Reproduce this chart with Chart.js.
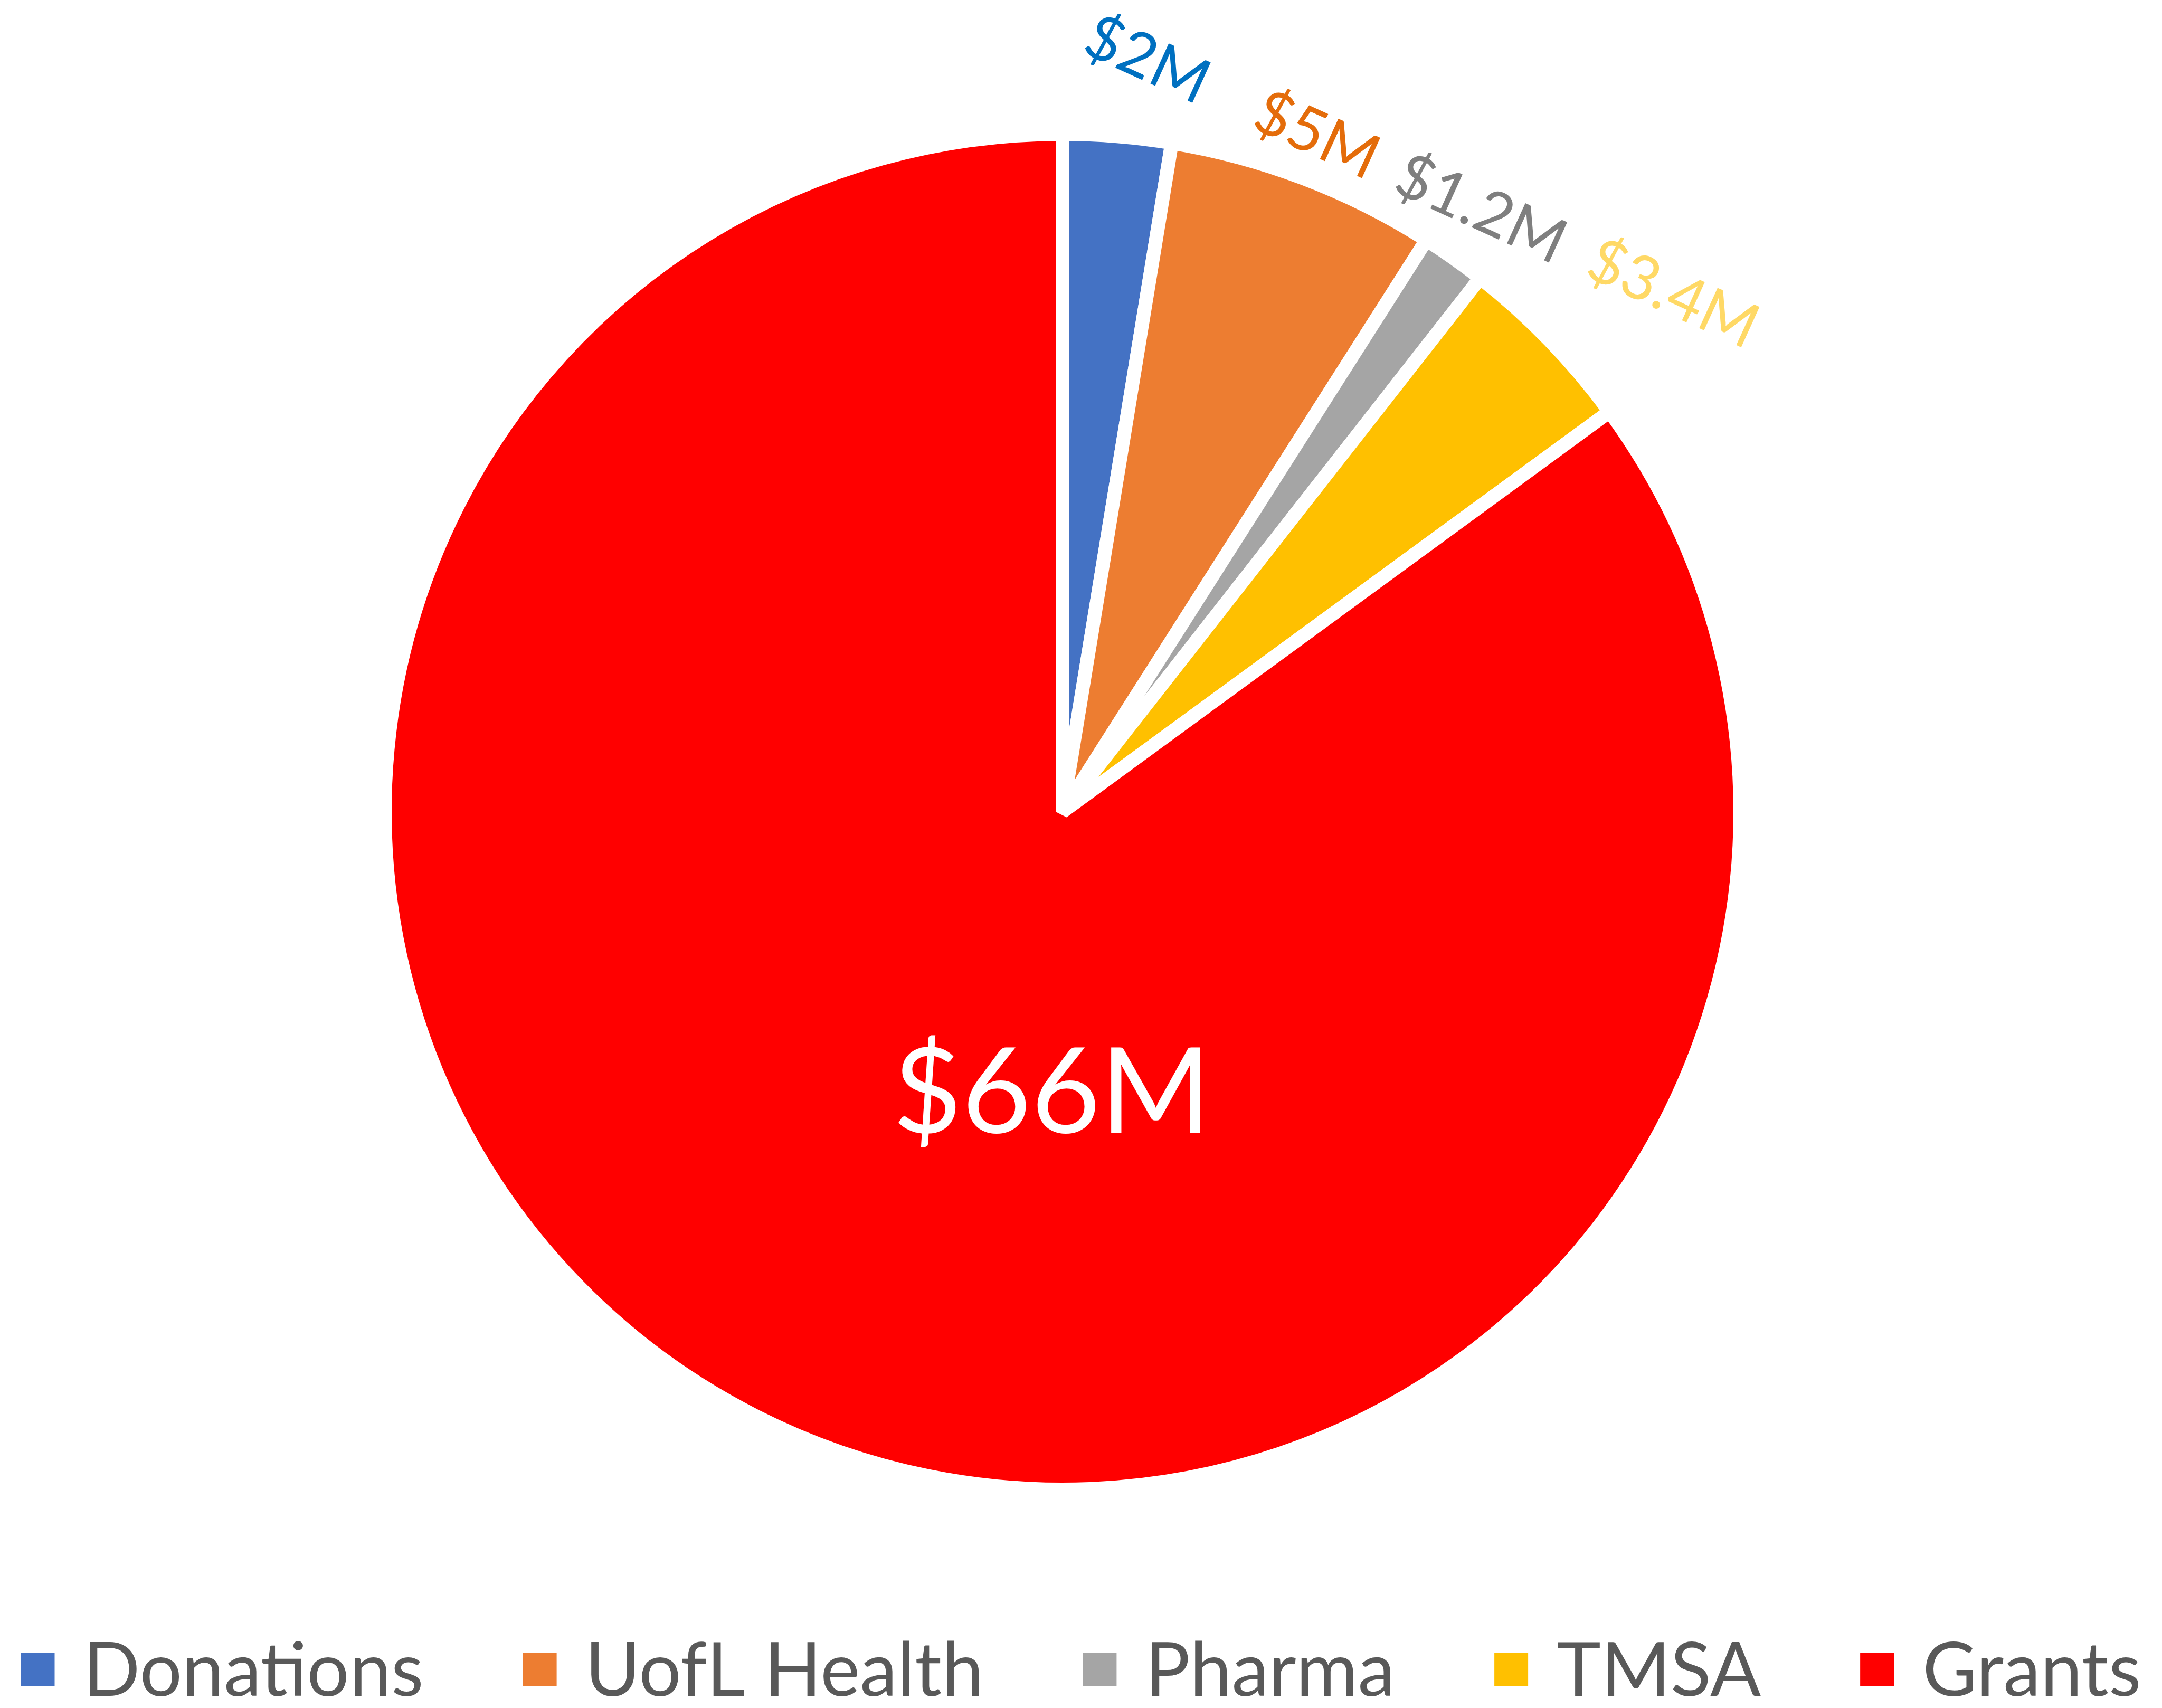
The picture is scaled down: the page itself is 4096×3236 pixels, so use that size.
<!DOCTYPE html>
<html lang="en">
<head>
    <meta charset="UTF-8">
    <title>Funding Sources</title>
    <script src="https://cdn.jsdelivr.net/npm/chart.js"></script>
    <style>
        html, body { margin: 0; padding: 0; background: #fff; }
        #wrap { width: 4096px; height: 3236px; position: relative; }
    </style>
</head>
<body>
    <div id="wrap"><canvas id="fundingPie"></canvas></div>

    <script>
    // Funding sources, in millions of dollars
    const sources = ['Donations', 'UofL Health', 'Pharma', 'TMSA', 'Grants'];
    const amounts = [2, 5, 1.2, 3.4, 66];

    const sliceColors = ['#4472C4', '#ED7D31', '#A5A5A5', '#FFC000', '#FF0000'];
    const labelColors = ['#0070C0', '#E46C0A', '#7F7F7F', '#FFD966', '#FFFFFF'];

    // Where each value label sits: angle nudge from the slice middle (deg)
    // and distance from the pie edge (px); the big slice keeps its label inside.
    const labelNudge = [1.3, -0.4, -0.2, 4.4, -25];
    const labelReach = [126, 60, 81, 211, -663];
    const labelTilt = [24.5, 24.5, 24.5, 24.5, 0];
    const labelSize = [117, 117, 117, 117, 226];

    const BORDER = 26;
    const PIE_R = 1271;

    const valueLabels = {
        id: 'valueLabels',
        afterDatasetsDraw(chart) {
            const ctx = chart.ctx;
            const meta = chart.getDatasetMeta(0);
            ctx.save();
            meta.data.forEach((arc, i) => {
                const p = arc.getProps(['x', 'y', 'startAngle', 'endAngle', 'outerRadius'], true);
                const edge = p.outerRadius - BORDER / 2;
                const ang = (p.startAngle + p.endAngle) / 2 + labelNudge[i] * Math.PI / 180;
                const dist = edge + labelReach[i];
                const lx = p.x + Math.cos(ang) * dist;
                const ly = p.y + Math.sin(ang) * dist;
                ctx.save();
                ctx.translate(lx, ly);
                ctx.rotate(labelTilt[i] * Math.PI / 180);
                ctx.font = labelSize[i] + 'px Lato';
                ctx.fillStyle = labelColors[i];
                ctx.textAlign = 'center';
                ctx.textBaseline = 'alphabetic';
                ctx.fillText('$' + amounts[i] + 'M', 0, 0);
                ctx.restore();
            });
            ctx.restore();
        }
    };

    // Single row legend along the bottom edge
    const legendRow = {
        id: 'legendRow',
        afterDraw(chart) {
            const ctx = chart.ctx;
            const ds = chart.data.datasets[0];
            const box = 64, boxGap = 54, itemGap = 188;
            ctx.save();
            ctx.font = '142px Lato';
            const widths = chart.data.labels.map(t => ctx.measureText(t).width);
            const total = widths.reduce((s, w) => s + box + boxGap + w, 0) + itemGap * (widths.length - 1);
            let x = (chart.width - total) / 2;
            const baseY = 3213;
            chart.data.labels.forEach((t, i) => {
                ctx.fillStyle = ds.backgroundColor[i];
                ctx.fillRect(x, baseY - 82, box, box);
                ctx.fillStyle = '#595959';
                ctx.textAlign = 'left';
                ctx.textBaseline = 'alphabetic';
                ctx.fillText(t, x + box + boxGap, baseY);
                x += box + boxGap + widths[i] + itemGap;
            });
            ctx.restore();
        }
    };

    function renderFundingPie() {
        new Chart(document.getElementById('fundingPie'), {
            type: 'pie',
            data: {
                labels: sources,
                datasets: [{
                    data: amounts,
                    backgroundColor: sliceColors,
                    borderColor: '#FFFFFF',
                    borderWidth: BORDER,
                    hoverOffset: 0,
                    radius: PIE_R + BORDER / 2
                }]
            },
            options: {
                responsive: true,
                maintainAspectRatio: false,
                devicePixelRatio: 1,
                animation: false,
                events: [],
                layout: { padding: { left: 0, right: 70, top: 0, bottom: 160 } },
                plugins: {
                    legend: { display: false },
                    tooltip: { enabled: false }
                }
            },
            plugins: [valueLabels, legendRow]
        });
    }

    document.addEventListener('DOMContentLoaded', renderFundingPie);
    </script>
</body>
</html>
